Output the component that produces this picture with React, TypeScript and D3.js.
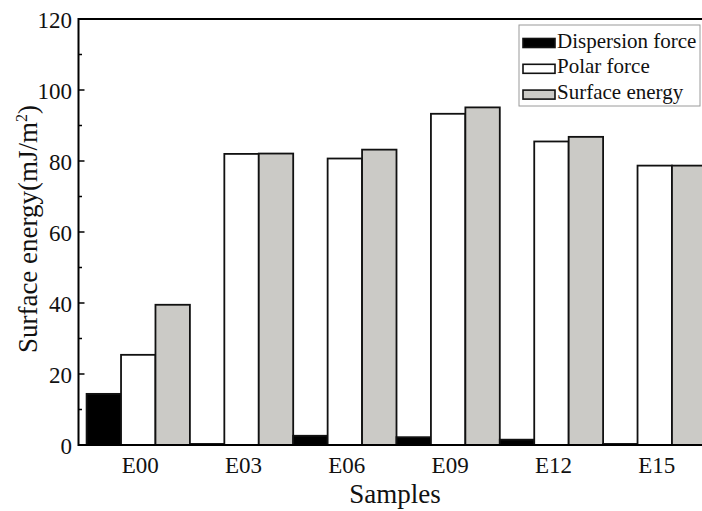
import React from "react";
import * as d3 from "d3";

const categories = ["E00", "E03", "E06", "E09", "E12", "E15"];
const seriesNames = ["Dispersion force", "Polar force", "Surface energy"];
const dispersion = [14.4, 0.3, 2.6, 2.2, 1.5, 0.3];
const polar = [25.4, 82.0, 80.7, 93.3, 85.5, 78.7];
const surface = [39.5, 82.1, 83.2, 95.1, 86.8, 78.7];
const yTicks = [0, 20, 40, 60, 80, 100, 120];
const yMinorTicks = [10, 30, 50, 70, 90, 110];

const seriesValues = [dispersion, polar, surface];
const fills = ["#000000", "#ffffff", "#cbcac6"];
const FONT = '"Liberation Serif", "Times New Roman", "DejaVu Serif", serif';
const txt = { fontFamily: FONT };

export default function App() {
  const W = 702;
  const H = 511;
  const axisLeft = 78.5;
  const axisTop = 19;
  const axisBottom = 445;
  const rightEdge = 712;

  const y = d3.scaleLinear().domain([0, 120]).range([axisBottom, axisTop]);
  const x = d3
    .scaleBand<string>()
    .domain(categories)
    .range([86.6, 86.6 + 6 * 103.3])
    .padding(0);
  const inner = d3
    .scaleBand<number>()
    .domain([0, 1, 2])
    .range([0, x.bandwidth()])
    .padding(0);

  return (
    <svg
      width={W}
      height={H}
      style={{ position: "absolute", left: 0, top: 0, background: "#fff", fontFamily: FONT }}
    >
      <rect x={0} y={0} width={W} height={H} fill="#fff" />
      {categories.map((c, i) => (
        <g key={c}>
          {seriesValues.map((vals, s) => {
            const x0 = (x(c) as number) + (inner(s) as number);
            const top = y(vals[i]);
            return (
              <rect
                key={s}
                x={x0}
                y={top}
                width={inner.bandwidth()}
                height={Math.max(0.01, axisBottom - top)}
                fill={fills[s]}
                stroke="#111"
                strokeWidth={1.8}
              />
            );
          })}
        </g>
      ))}
      <path
        d={`M${rightEdge},${axisTop}H${axisLeft}V${axisBottom}H${rightEdge}`}
        fill="none"
        stroke="#000"
        strokeWidth={2}
      />
      {yTicks.map((t) => (
        <g key={t}>
          <line x1={axisLeft} x2={axisLeft + 6} y1={y(t)} y2={y(t)} stroke="#000" strokeWidth={1.5} />
          <text x={72} y={y(t) + 8.5} textAnchor="end" fontSize={23} fill="#111" style={txt}>
            {t}
          </text>
        </g>
      ))}
      {yMinorTicks.map((t) => (
        <line key={t} x1={axisLeft} x2={axisLeft + 3.5} y1={y(t)} y2={y(t)} stroke="#000" strokeWidth={1.5} />
      ))}
      {categories.map((c) => (
        <text
          key={c}
          x={(x(c) as number) + x.bandwidth() / 2 + 2}
          y={473}
          textAnchor="middle"
          fontSize={23}
          fill="#111"
          style={txt}
        >
          {c}
        </text>
      ))}
      <text x={395} y={503} textAnchor="middle" fontSize={27} fill="#111" style={txt}>
        Samples
      </text>
      <text
        transform={`translate(37,229) rotate(-90)`}
        textAnchor="middle"
        fontSize={27}
        fill="#111"
        style={txt}
      >
        Surface energy(mJ/m
        <tspan dy={-10} fontSize={16}>2</tspan>
        <tspan dy={10}>)</tspan>
      </text>
      <rect x={519} y={25} width={181} height={81} fill="#fff" stroke="#9a9a9a" strokeWidth={1} />
      {seriesNames.map((n, s) => {
        const cy = 43 + s * 25.8;
        return (
          <g key={n}>
            <rect
              x={523}
              y={cy - 4.5}
              width={32}
              height={9}
              fill={fills[s]}
              stroke="#111"
              strokeWidth={1.6}
            />
            <text x={557} y={cy + 4.5} fontSize={21} fill="#111" style={txt}>
              {n}
            </text>
          </g>
        );
      })}
    </svg>
  );
}
